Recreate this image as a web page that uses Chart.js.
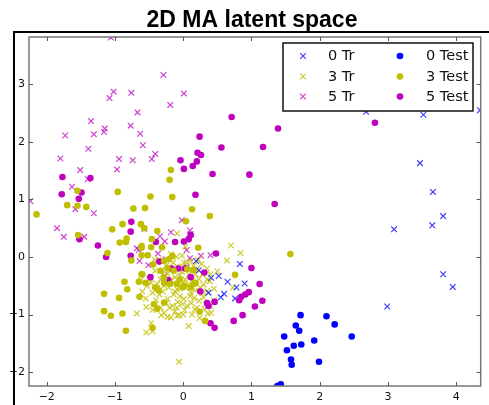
<!DOCTYPE html>
<html lang="en">
<head>
<meta charset="UTF-8">
<title>2D MA latent space</title>
<script src="https://cdn.jsdelivr.net/npm/chart.js"></script>
<style>
  html, body { margin: 0; padding: 0; background: #fff; }
</style>
</head>
<body>
<canvas id="latentChart" width="489" height="405"></canvas>
<script>
// axis limits and ticks
const xRange = [-2.26, 4.36];
const yRange = [-2.24, 3.82];
const titleText = '2D MA latent space';

// digit 0, train (crosses)
const tr0 = [
  [0.19,-0.07],[0.23,-0.23],[0.41,-0.36],[0.52,-0.33],[0.65,-0.43],[0.83,-0.12],
  [0.90,-0.46],[0.78,-0.53],[0.60,-0.64],[0.55,-0.70],[0.76,-0.72],[0.37,-0.62],
  [3.81,-0.30],[3.95,-0.52],[2.99,-0.86],[2.68,2.52],[3.52,2.47],[4.35,2.55],
  [3.47,1.63],[3.66,1.13],[3.81,0.71],[3.65,0.55],[3.09,0.48]
];
// digit 3, train
const tr3 = [
  [-0.68,-0.98],[-0.54,-0.87],[-0.47,-1.15],[-0.54,-1.31],[-0.45,-1.29],[-0.06,-1.82],
  [0.08,-1.20],[0.41,-0.97],[0.40,-0.85],[0.73,-0.53],[0.39,-0.42],[0.70,0.20],
  [0.84,0.07],[0.64,-0.06],[-0.09,0.41],[0.03,0.18],
  [-0.32,-1.01],[-0.23,-1.04],[-0.18,-1.05],[-0.06,-1.01],[0.00,-1.00],[0.13,-1.00],
  [0.24,-1.06],[0.36,-0.98],[-0.53,-0.50],[-0.38,-0.47],[-0.21,-0.53],[-0.14,-0.65],
  [-0.23,-0.73],[-0.16,-0.85],[-0.09,-0.88],[-0.01,-0.82],[0.06,-0.85],[0.01,-0.73],
  [0.16,-0.71],[0.23,-0.76],[0.11,-0.62],[0.25,-0.53],[0.35,-0.59],[0.03,-0.53],
  [-0.09,-0.56],[-0.33,-0.88],[-0.28,-0.97],[-0.09,-1.02],[0.31,-0.91],[0.17,-0.91],
  [0.28,-0.30],[0.35,-0.39],[0.13,-0.42],[0.11,-0.07],[0.01,-0.10],[-0.09,-0.16],
  [-0.23,-0.29],[-0.41,-0.24],[-0.33,-0.39],[-0.14,-0.45],[0.03,-0.39],[0.20,-0.21],
  [-0.18,0.05],[-0.10,0.00],[-0.02,0.02],
  [-0.45,-0.62],[-0.30,-0.60],[-0.05,-0.68],[0.08,-0.30],[-0.25,-0.15],[-0.02,-0.25],
  [0.18,-0.58],[0.30,-0.70],[-0.40,-0.75],[-0.12,-0.35],[0.05,-0.10],[-0.35,-0.05],
  [0.22,-0.05],[-0.20,-0.88],[0.12,-0.80],[-0.50,-0.38],[0.45,-0.55],[0.50,-0.25],
  [-0.60,-0.60],[0.00,-0.45],[-0.28,-0.50],[0.15,-0.15],[-0.05,-0.55],
  [-0.42,-0.05],[-0.15,-0.10],[0.27,-0.12],[0.35,-0.20],[-0.30,-0.30],[-0.05,-0.32],
  [0.23,-0.38],[-0.47,-0.45],[-0.18,-0.40],[0.08,-0.48],[0.30,-0.48],[-0.35,-0.65],
  [-0.12,-0.60],[0.10,-0.68],[0.33,-0.82],[-0.45,-0.92],[-0.25,-0.80],[0.02,-0.92],
  [0.20,-0.88],[-0.12,-0.95],[0.45,-0.75],[-0.55,-0.72],[-0.38,-0.55],[0.40,-0.30],
  [-0.20,-0.22],[0.00,-0.18],[0.18,-0.30],[-0.08,-0.78],[0.28,-0.63],[-0.62,-0.40]
];
// digit 5, train
const tr5 = [
  [-1.06,3.81],[-1.02,2.87],[-1.08,2.76],[-0.76,2.85],[-0.67,2.51],[-1.35,2.36],
  [-0.77,2.28],[-1.15,2.23],[-1.16,2.17],[-1.31,2.13],[-1.73,2.11],[-0.63,2.14],
  [-1.39,1.88],[-0.59,1.94],[-1.80,1.71],[-0.94,1.70],[-0.74,1.68],[-0.46,1.70],
  [-0.41,1.79],[-0.29,3.16],[0.01,2.84],[-0.19,2.64],
  [-1.51,1.51],[-0.97,1.52],[-1.40,1.35],[-1.63,1.22],[-1.58,0.83],[-1.31,0.76],
  [-1.85,0.50],[-1.75,0.35],[-1.45,0.35],[-2.24,0.97],
  [-0.57,0.49],[-0.02,0.64],[-0.18,0.43],[0.10,0.46],[0.11,0.40],[-0.34,0.36],
  [-0.27,0.27],[-0.68,0.15],[-0.65,0.12],[0.05,0.12],[0.26,0.02],[0.40,0.03],
  [-0.25,-0.04],[-0.37,0.06],[-0.64,-0.07],[-0.51,-0.14],[-0.28,-0.33],[0.05,-0.17],
  [0.10,-0.02]
];
// digit 0, test (dots)
const te0 = [
  [1.72,-1.01],[2.10,-1.03],[2.22,-1.17],[1.65,-1.19],[1.70,-1.28],[1.48,-1.38],
  [2.47,-1.38],[1.92,-1.45],[1.73,-1.52],[1.62,-1.54],[1.52,-1.62],[1.58,-1.78],
  [1.59,-1.87],[1.99,-1.82],[1.43,-2.21],[1.38,-2.24]
];
// digit 3, test
const te3 = [
  [-0.61,0.03],[-0.52,0.03],[-0.47,0.17],[-0.61,0.16],[-0.31,0.17],[-0.44,-0.13],
  [-0.28,-0.07],[-0.21,-0.04],[-0.23,-0.19],[-0.14,-0.24],[-0.60,-0.30],[-0.55,-0.45],
  [0.06,-0.21],[0.01,-0.50],[-0.19,-0.47],[-0.41,-0.53],[-0.28,-0.36],[-0.05,-0.39],
  [0.16,-0.47],[-0.33,-0.24],[-0.16,0.02],[-0.38,0.45],[-0.36,-0.58],[-0.28,-0.45],
  [0.00,-0.52],[0.18,-0.45],[-0.09,-0.47],[0.11,-0.53],[0.15,-0.23],[0.76,-0.31],
  [-0.76,-0.06],
  [-2.15,0.74],[-1.70,0.90],[-1.55,1.15],[-1.55,0.89],[-1.42,0.87],[-1.54,0.38],
  [-0.96,1.13],[-0.73,0.84],[-0.56,0.85],[-0.48,1.05],[-0.18,1.51],[-0.20,1.34],
  [-0.16,1.04],[0.13,0.83],[0.39,0.71],[0.04,0.62],[-1.04,0.48],[-0.89,0.57],
  [-0.62,0.57],[-0.57,0.50],[-0.93,0.25],[-0.83,0.32],[-0.84,0.26],[-1.11,0.07],
  [-0.46,0.31],[-0.61,0.19],[0.22,0.16],[1.57,0.05],
  [-1.16,-0.64],[-0.94,-0.71],[-0.82,-0.56],[-0.86,-0.43],[-0.64,-0.69],[-0.65,-0.43],
  [-0.61,-0.30],[-1.16,-0.94],[-1.06,-1.02],[-0.89,-0.98],[-0.84,-1.28],[-0.43,-0.82],
  [-0.38,-0.90],[-0.45,-1.23],[-0.28,-0.79],[0.24,-0.95],[0.32,-1.11]
];
// digit 5, test
const te5 = [
  [0.71,2.43],[1.39,2.23],[2.81,2.33],[0.24,2.09],[0.56,1.90],[1.17,1.91],
  [0.21,1.81],[0.26,1.77],[-0.04,1.68],[0.20,1.66],[0.14,1.58],[0.01,1.53],
  [0.43,1.44],[0.97,1.43],[0.18,1.08],[1.34,0.92],
  [-1.77,1.39],[-1.36,1.37],[-1.78,1.09],[-1.49,1.12],[-1.53,1.01],[-1.52,0.31],
  [-1.25,0.20],[-1.13,0.00],
  [-0.76,0.61],[-0.77,0.44],[-0.77,0.02],[0.01,0.27],[-0.12,0.26],[0.08,0.31],
  [0.11,0.38],[-0.40,0.26],[0.48,0.06],
  [-0.35,-0.08],[-0.17,-0.20],[-0.07,-0.20],[0.03,-0.20],[0.31,-0.27],[-0.48,-0.35],
  [-0.22,-0.40],[0.11,-0.35],[0.25,-0.60],[0.35,-0.80],[0.37,-0.85],[0.46,-0.78],
  [0.40,-1.15],[0.46,-1.23],[0.74,-1.11],[0.87,-1.01],[0.82,-0.75],[0.85,-0.69],
  [0.91,-0.65],[0.96,-0.61],[1.00,-0.19],[1.12,-0.47],[1.16,-0.76],[1.05,-0.86]
];

const BLUE = '#0000ff', YELLOW = '#bfbf00', MAGENTA = '#bf00bf';
const BLUE_X = 'rgba(0,0,255,0.75)', YELLOW_X = 'rgba(191,191,0,0.8)', MAGENTA_X = 'rgba(191,0,191,0.75)';
const toPts = arr => arr.map(p => ({ x: p[0], y: p[1] }));
const fmt = v => (v < 0 ? '\u2212' + Math.abs(v) : String(v));

function trSet(label, data, color) {
  return {
    label: label, data: toPts(data), pointStyle: 'crossRot',
    pointRadius: 4, borderColor: color, backgroundColor: color,
    pointBorderWidth: 1.2, order: 2
  };
}
function teSet(label, data, color) {
  return {
    label: label, data: toPts(data), pointStyle: 'circle',
    pointRadius: 3.3, borderColor: color, backgroundColor: color,
    pointBorderWidth: 0, order: 1
  };
}

// frame, inward ticks, title and legend
const decorPlugin = {
  id: 'decor',
  afterDraw(chart) {
    const ctx = chart.ctx;
    const a = chart.chartArea;
    ctx.save();
    // outer black border (left + top)
    ctx.strokeStyle = '#000';
    ctx.lineWidth = 2;
    ctx.beginPath();
    ctx.moveTo(14, 405); ctx.lineTo(14, 32); ctx.lineTo(489, 32);
    ctx.stroke();
    // plot frame
    ctx.strokeStyle = '#777';
    ctx.lineWidth = 1.5;
    ctx.strokeRect(a.left, a.top, a.right - a.left, a.bottom - a.top);
    // inward ticks
    ctx.strokeStyle = '#555';
    ctx.lineWidth = 1;
    ctx.beginPath();
    chart.scales.x.ticks.forEach(t => {
      const px = Math.round(chart.scales.x.getPixelForValue(t.value)) + 0.5;
      ctx.moveTo(px, a.bottom); ctx.lineTo(px, a.bottom - 4);
      ctx.moveTo(px, a.top); ctx.lineTo(px, a.top + 4);
    });
    chart.scales.y.ticks.forEach(t => {
      const py = Math.round(chart.scales.y.getPixelForValue(t.value)) + 0.5;
      ctx.moveTo(a.left, py); ctx.lineTo(a.left + 4, py);
      ctx.moveTo(a.right, py); ctx.lineTo(a.right - 4, py);
    });
    ctx.stroke();
    // title
    ctx.fillStyle = '#000';
    ctx.font = 'bold 23px "Liberation Sans", Arial, sans-serif';
    ctx.textAlign = 'center';
    ctx.textBaseline = 'alphabetic';
    ctx.fillText(titleText, 252, 27);
    // legend
    const lx = 283, ly = 43, lw = 190, lh = 68;
    ctx.fillStyle = '#fff';
    ctx.fillRect(lx, ly, lw, lh);
    ctx.strokeStyle = '#111';
    ctx.lineWidth = 1.5;
    ctx.strokeRect(lx, ly, lw, lh);
    ctx.font = '14.5px "DejaVu Sans", sans-serif';
    ctx.textAlign = 'left';
    ctx.textBaseline = 'middle';
    const rowsY = [56, 76.5, 96.5];
    chart.data.datasets.forEach((ds, i) => {
      const col = i < 3 ? 0 : 1;
      const row = i % 3;
      const mx = col === 0 ? 303 : 400;
      const tx = col === 0 ? 328 : 426;
      const my = rowsY[row];
      ctx.strokeStyle = ds.borderColor;
      ctx.fillStyle = ds.backgroundColor;
      if (ds.pointStyle === 'crossRot') {
        ctx.lineWidth = 1.2;
        ctx.beginPath();
        ctx.moveTo(mx - 2.8, my - 2.8); ctx.lineTo(mx + 2.8, my + 2.8);
        ctx.moveTo(mx - 2.8, my + 2.8); ctx.lineTo(mx + 2.8, my - 2.8);
        ctx.stroke();
      } else {
        ctx.beginPath();
        ctx.arc(mx, my, 3.3, 0, Math.PI * 2);
        ctx.fill();
      }
      ctx.fillStyle = '#111';
      ctx.fillText(ds.label, tx, my + 0.5);
    });
    ctx.restore();
  }
};

const tickFont = { family: '"DejaVu Sans", sans-serif', size: 11 };

new Chart(document.getElementById('latentChart'), {
  type: 'scatter',
  data: {
    datasets: [
      trSet('0 Tr', tr0, BLUE_X),
      trSet('3 Tr', tr3, YELLOW_X),
      trSet('5 Tr', tr5, MAGENTA_X),
      teSet('0 Test', te0, BLUE),
      teSet('3 Test', te3, YELLOW),
      teSet('5 Test', te5, MAGENTA)
    ]
  },
  options: {
    responsive: false,
    animation: false,
    layout: { padding: { top: 37, right: 8.3, left: 0, bottom: 0 } },
    plugins: {
      legend: { display: false },
      title: { display: false },
      tooltip: { enabled: false }
    },
    scales: {
      x: {
        type: 'linear', min: xRange[0], max: xRange[1],
        grid: { display: false, drawTicks: false },
        border: { display: false },
        ticks: {
          stepSize: 1, includeBounds: false, padding: 5,
          color: '#111', font: tickFont, callback: v => fmt(v)
        },
        afterFit(scale) { scale.height = 19; }
      },
      y: {
        type: 'linear', min: yRange[0], max: yRange[1],
        grid: { display: false, drawTicks: false },
        border: { display: false },
        ticks: {
          stepSize: 1, includeBounds: false, padding: 4,
          color: '#111', font: tickFont, callback: v => fmt(v)
        },
        afterFit(scale) { scale.width = 29; }
      }
    }
  },
  plugins: [decorPlugin]
});
</script>
</body>
</html>
